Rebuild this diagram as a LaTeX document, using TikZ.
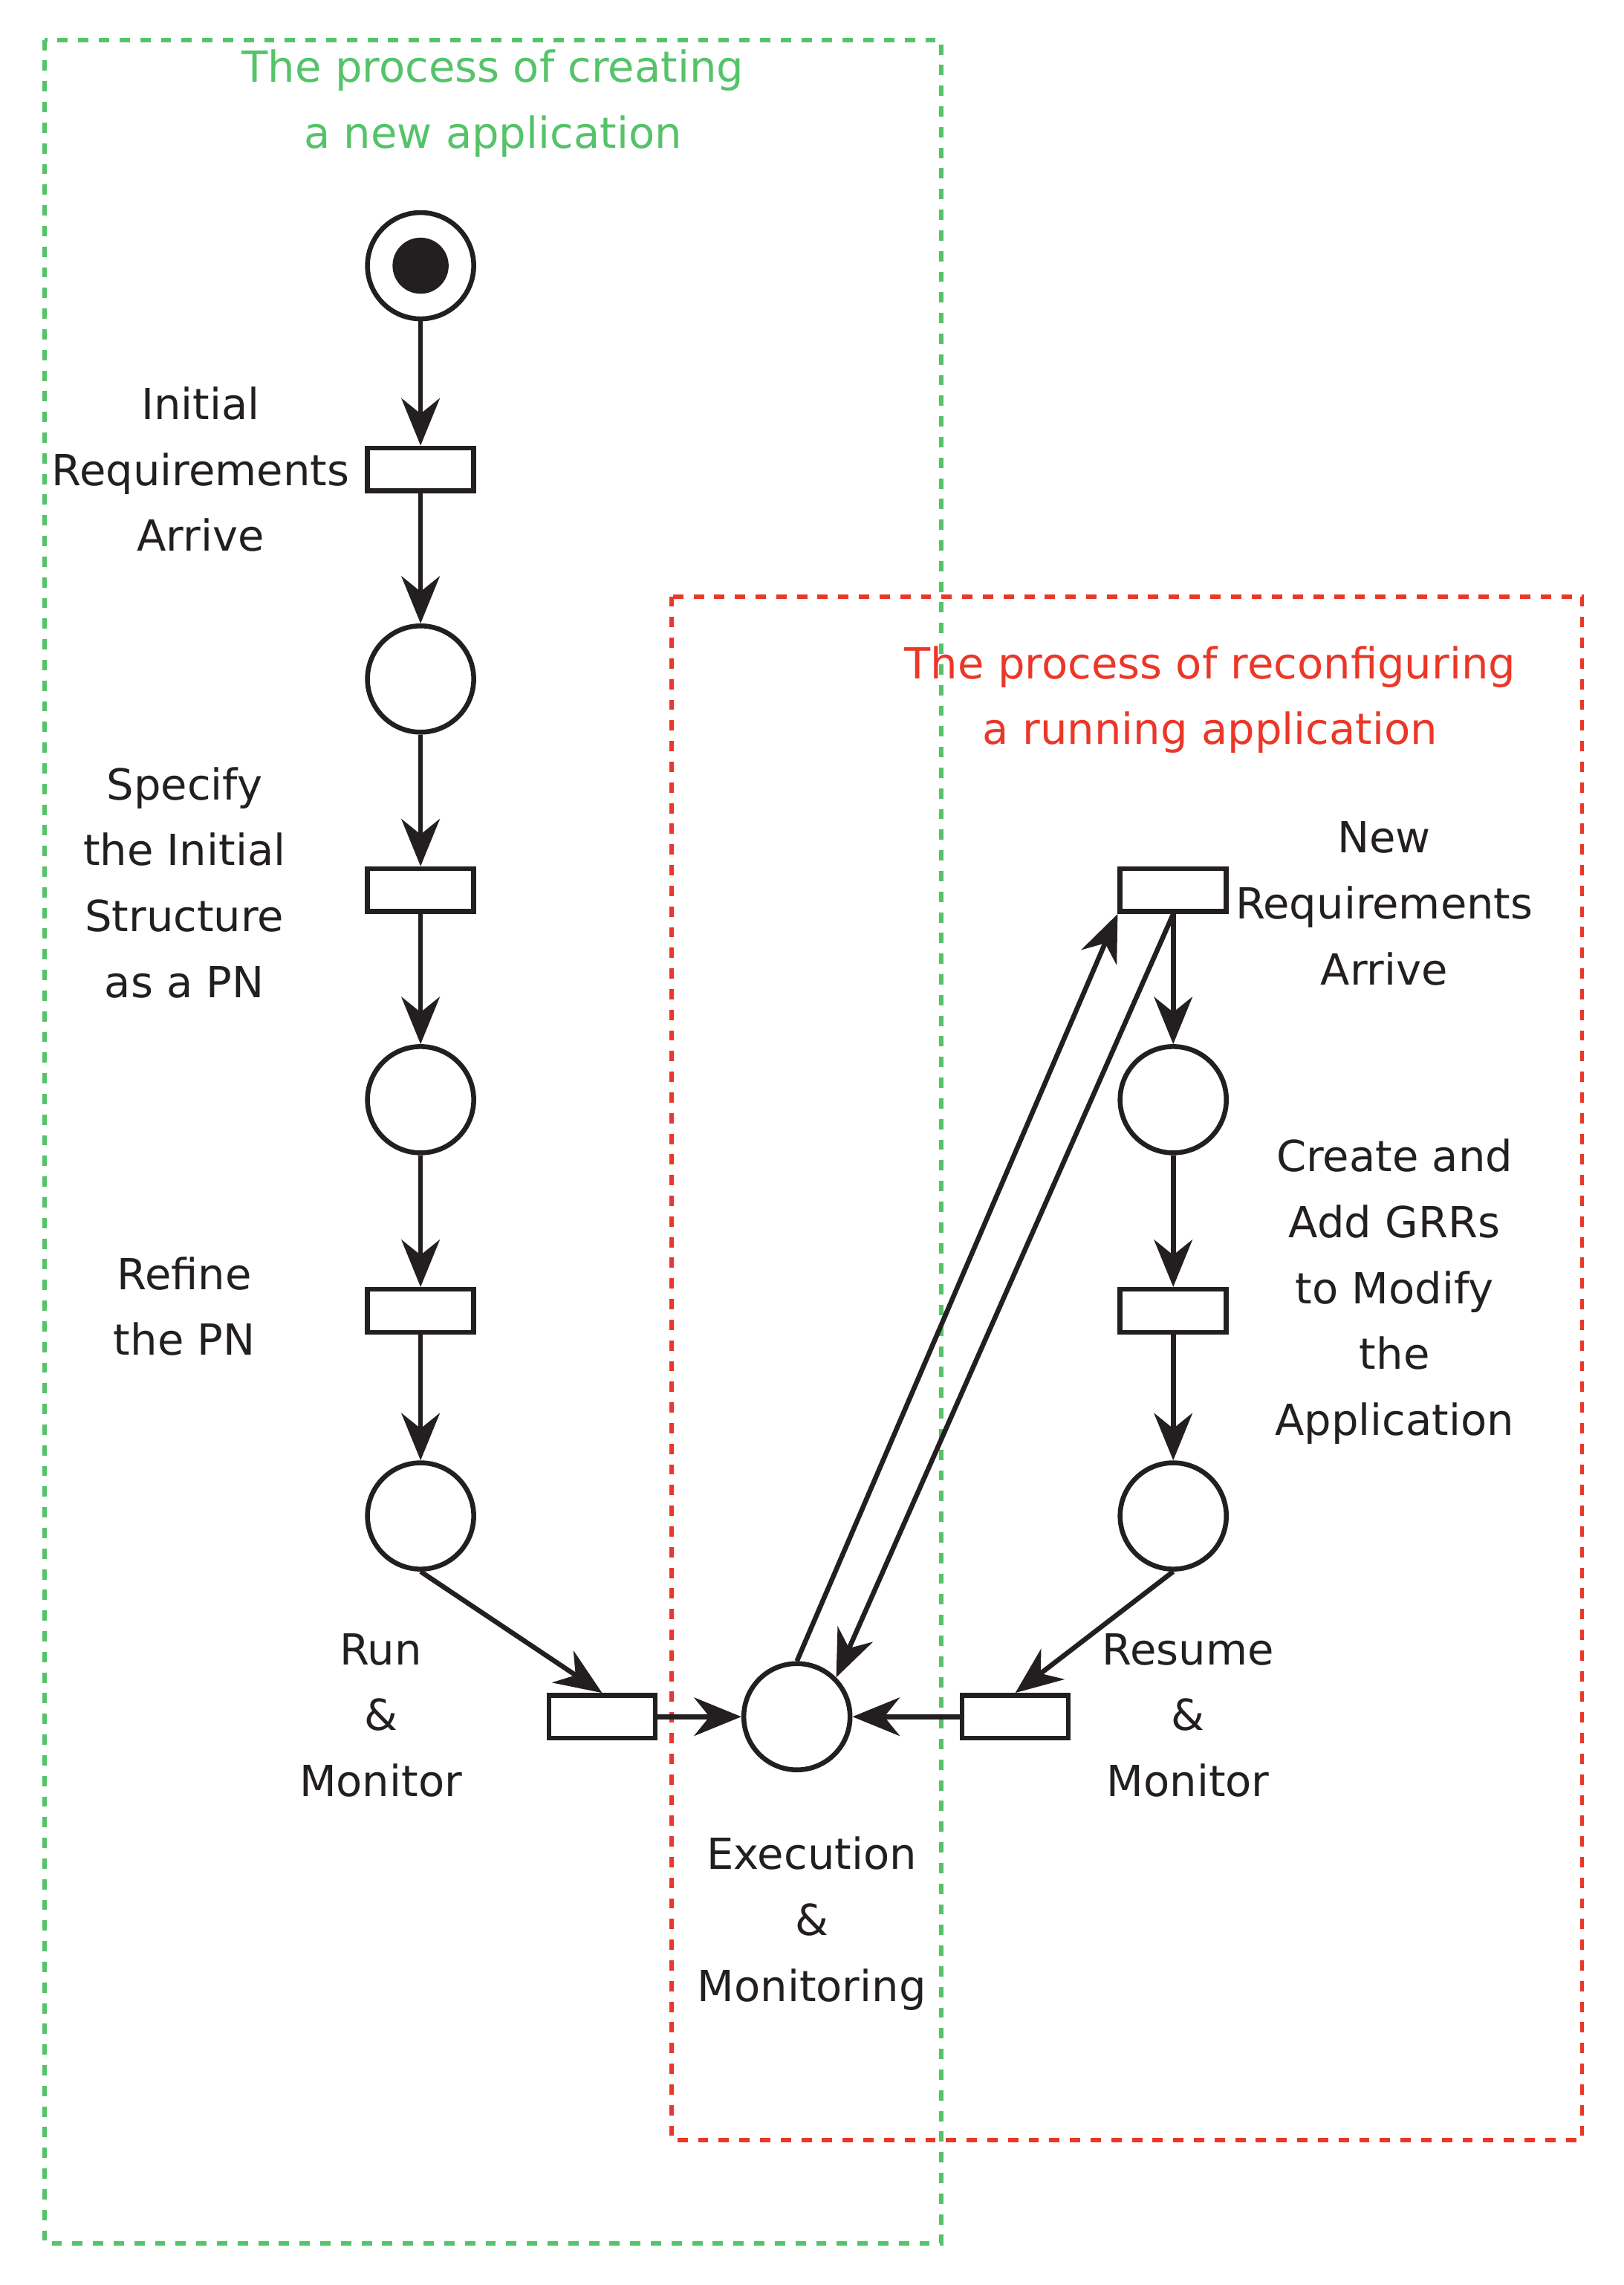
\documentclass[tikz,border=0pt]{standalone}
\usepackage{fontspec}
\setmainfont{DejaVu Sans}
\usetikzlibrary{arrows.meta}
\definecolor{ink}{RGB}{35,31,32}
\definecolor{gr}{RGB}{85,195,105}
\definecolor{rd}{RGB}{235,55,40}
\begin{document}
\begin{tikzpicture}[x=1pt,y=-1pt,
  pl/.style={circle,draw=ink,line width=3.3pt,minimum size=72pt,inner sep=0pt},
  tr/.style={rectangle,draw=ink,line width=3.3pt,minimum width=72pt,minimum height=29pt,inner sep=0pt},
  ar/.style={draw=ink,line width=3.3pt,-{Stealth[length=32pt,width=26pt]}},
  lb/.style={text=ink,align=center,font=\fontsize{29}{44.7}\selectfont},
  box/.style={line width=3pt,dash pattern=on 7pt off 7pt}]
\useasboundingbox (0,0) rectangle (1100,1548);
\draw[box,gr] (30,27) rectangle (638,1520);
\draw[box,rd] (455,404) rectangle (1072,1450);
\node[pl] (s) at (285,180) {};
\fill[ink] (285,180) circle (19pt);
\node[tr] (t1) at (285,318) {};
\node[pl] (p1) at (285,460) {};
\node[tr] (t2) at (285,603) {};
\node[pl] (p2) at (285,745) {};
\node[tr] (t3) at (285,888) {};
\node[pl] (p3) at (285,1027) {};
\node[tr] (tr) at (408,1163) {};
\node[pl] (ex) at (540,1163) {};
\node[tr] (tres) at (688,1163) {};
\node[pl] (q3) at (795,1027) {};
\node[tr] (u3) at (795,888) {};
\node[pl] (q2) at (795,745) {};
\node[tr] (un) at (795,603) {};
\draw[ar] (s) -- (t1);
\draw[ar] (t1) -- (p1);
\draw[ar] (p1) -- (t2);
\draw[ar] (t2) -- (p2);
\draw[ar] (p2) -- (t3);
\draw[ar] (t3) -- (p3);
\draw[ar] (p3.south) -- (tr.north);
\draw[ar] (tr) -- (ex);
\draw[ar] (tres) -- (ex);
\draw[ar] (q3.south) -- (tres.north);
\draw[ar] (q2) -- (u3);
\draw[ar] (u3) -- (q3);
\draw[ar] (un) -- (q2);
\draw[ar] (ex.north) -- (un.south west);
\draw[ar] (un.south) -- (ex.north east);
\node[lb,text=gr] (g) at (334,70) {The process of creating\\a new application};
\node[lb,text=rd] (r) at (820,474) {The process of reconfiguring\\a running application};
\node[lb] (l1) at (136,318) {Initial\\Requirements\\Arrive};
\node[lb] (l2) at (125,598) {Specify\\the Initial\\Structure\\as a PN};
\node[lb] (l3) at (125,885) {Refine\\the PN};
\node[lb] (l4) at (258,1162) {Run\\\&\\Monitor};
\node[lb] (l5) at (550,1303) {Execution\\\&\\Monitoring};
\node[lb] (l6) at (805,1162) {Resume\\\&\\Monitor};
\node[lb] (l7) at (938,612) {New\\Requirements\\Arrive};
\node[lb] (l8) at (945,875) {Create and\\Add GRRs\\to Modify\\the\\Application};
\end{tikzpicture}
\end{document}
